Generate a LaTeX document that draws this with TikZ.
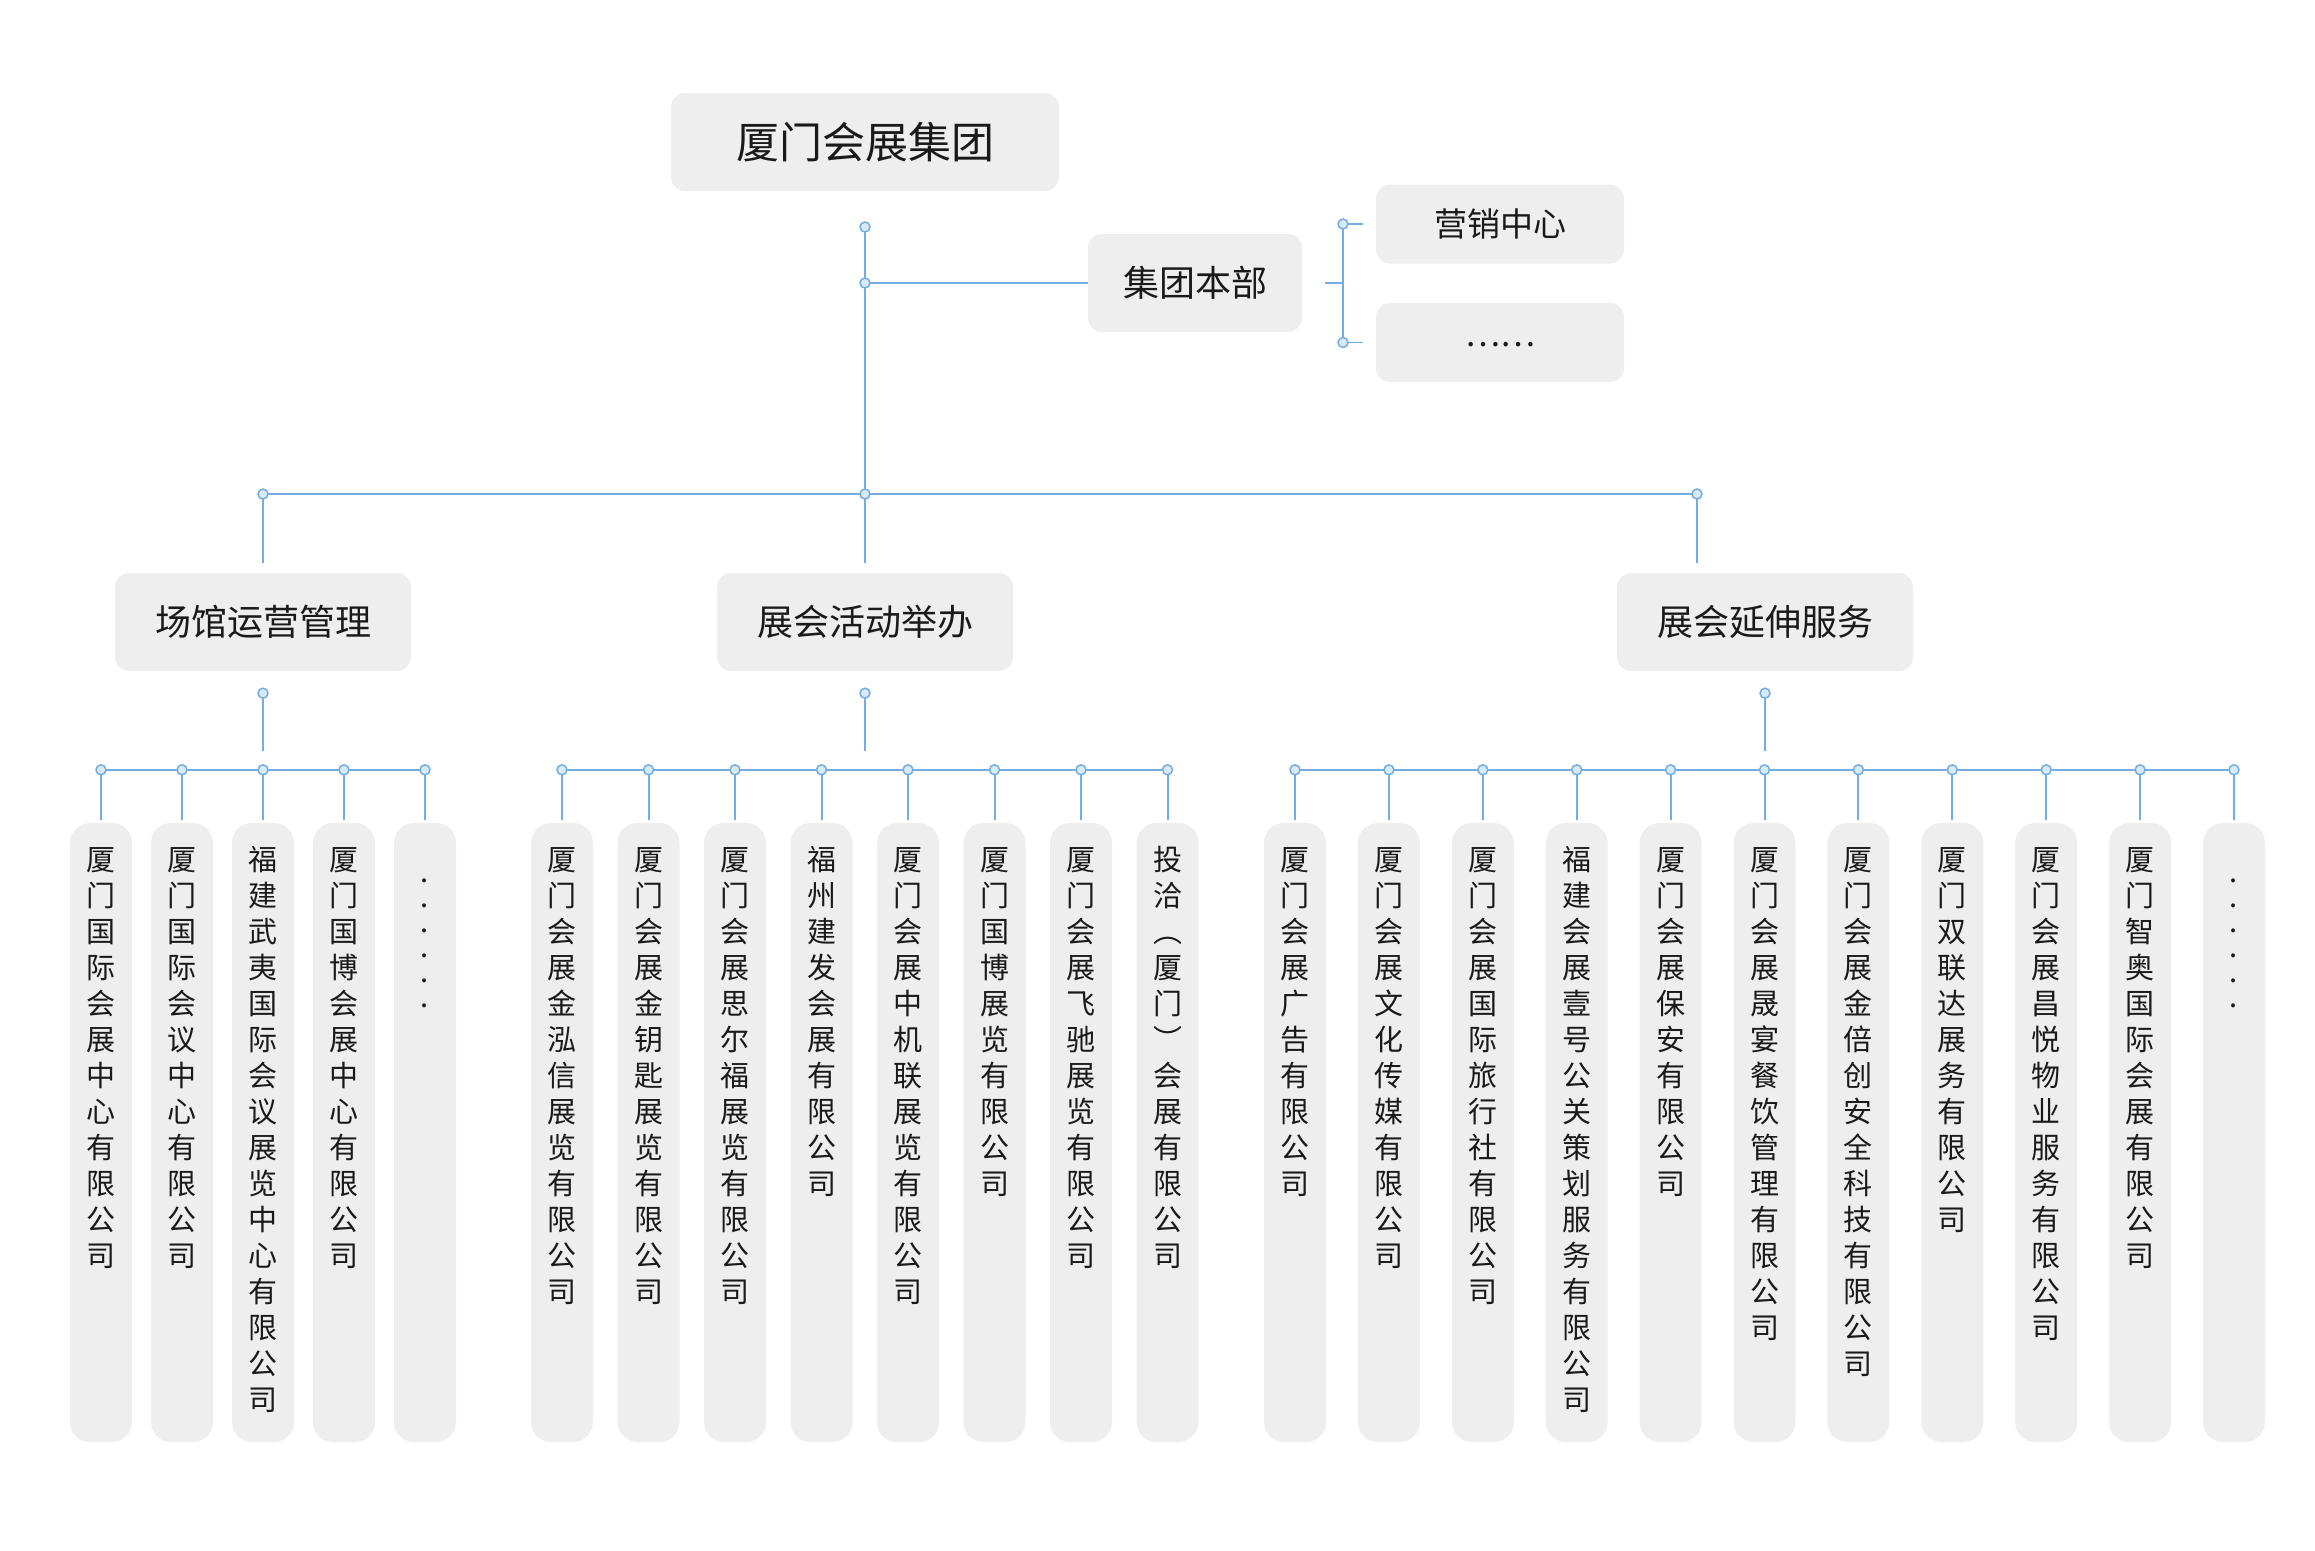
\documentclass[tikz,border=0pt]{standalone}
\usepackage{fontspec}
\setmainfont{Noto Sans CJK SC}
\usepackage{tikz}
\usetikzlibrary{positioning}
\definecolor{boxgray}{HTML}{EEEEEE}
\definecolor{wireblue}{HTML}{74ADE3}
\definecolor{knobfill}{HTML}{D8E9F8}
\definecolor{inkc}{HTML}{1A1A1A}
% one character per line, top aligned in a 619pt column
\def\vcolx#1{\ifx\relax#1\else\hbox to 62pt{\hss\vrule height 25pt depth 7pt width 0pt#1\hss}\expandafter\vcolx\fi}
\newcommand\vcol[3][36pt]{\vbox to 619pt{\kern#2\baselineskip=#1\lineskiplimit=-100pt\relax\expandafter\vcolx#3\relax\vss}}

\begin{document}
\begin{tikzpicture}[x=1pt,y=-1pt,
  orgbox/.style={rectangle,fill=boxgray,text=inkc,inner sep=0pt,rounded corners=14pt},
  topbox/.style={orgbox,minimum width=388pt,minimum height=98pt,font=\fontsize{43}{50}\selectfont,text height=35.7pt,text depth=3pt},
  hqbox/.style={orgbox,minimum width=214pt,minimum height=98pt,font=\fontsize{36}{42}\selectfont,text height=29.9pt,text depth=2.5pt},
  subbox/.style={orgbox,minimum width=248pt,minimum height=79pt,font=\fontsize{33}{40}\selectfont,text height=27.4pt,text depth=2.3pt},
  midbox/.style={orgbox,minimum width=296pt,minimum height=98pt,font=\fontsize{36}{42}\selectfont,text height=29.9pt,text depth=2.5pt},
  leafbox/.style={rectangle,fill=boxgray,text=inkc,rounded corners=20pt,inner sep=0pt,minimum width=62pt,minimum height=619pt,font=\fontsize{29}{36}\selectfont},
  wire/.style={draw=wireblue,line width=2pt},
  knob/.style={circle,draw=wireblue,fill=knobfill,line width=1.5pt,inner sep=0pt,minimum size=10pt}]
\fill[white] (0,0) rectangle (2315,1550);
\useasboundingbox (0,0) rectangle (2315,1550);

% top part
\node[topbox] (group) at (865,142) {厦门会展集团};
\node[hqbox] (hq) at (1195,283) {集团本部};
\node[subbox] (mkt) at (1500,224) {营销中心};
\node[subbox] (more) at (1500,342.5) {\raisebox{9pt}{……}};
\node[midbox] (venue) at (263,622) {场馆运营管理};
\node[midbox] (event) at (865,622) {展会活动举办};
\node[midbox] (ext) at (1765,622) {展会延伸服务};

\coordinate (t0) at (865,227);
\coordinate (t1) at (865,283);
\coordinate (t2) at (865,494);
\coordinate (bl) at (263,494);
\coordinate (br) at (1697,494);
\coordinate (brend) at (1697,563);
\coordinate (bk) at (1343,283);
\coordinate (bkin) at (1325,283);
\coordinate (bk1) at (1343,224);
\coordinate (bk2) at (1343,342.5);

\draw[wire] (t0) -- ([yshift=10pt]event.north);
\draw[wire] (t1) -- (hq.west);
\draw[wire] (bl) -- (br);
\draw[wire] (bl) -- ([yshift=10pt]venue.north);
\draw[wire] (br) -- (brend);
\draw[wire,line width=1.6pt] (bkin) -- (bk);
\draw[wire,line width=1.6pt] (bk1) -- (bk2);
\draw[wire,line width=1.6pt] (bk1) -- ([xshift=-13pt]mkt.west);
\draw[wire,line width=1.6pt] (bk2) -- ([xshift=-13pt]more.west);

% companies
\foreach \firm [count=\i] in {厦门国际会展中心有限公司,厦门国际会议中心有限公司,福建武夷国际会议展览中心有限公司,厦门国博会展中心有限公司}
  \node[leafbox] (v\i) at ({101+81*(\i-1)},1132.5) {\vcol{22pt}{\firm}};
\node[leafbox] (v5) at (425,1132.5) {\vcol[25pt]{34pt}{......}};

\foreach \firm [count=\i] in {厦门会展金泓信展览有限公司,厦门会展金钥匙展览有限公司,厦门会展思尔福展览有限公司,福州建发会展有限公司,厦门会展中机联展览有限公司,厦门国博展览有限公司,厦门会展飞驰展览有限公司,投洽︵厦门︶会展有限公司}
  \node[leafbox] (e\i) at ({562+86.5*(\i-1)},1132.5) {\vcol{22pt}{\firm}};

\foreach \firm [count=\i] in {厦门会展广告有限公司,厦门会展文化传媒有限公司,厦门会展国际旅行社有限公司,福建会展壹号公关策划服务有限公司,厦门会展保安有限公司,厦门会展晟宴餐饮管理有限公司,厦门会展金倍创安全科技有限公司,厦门双联达展务有限公司,厦门会展昌悦物业服务有限公司,厦门智奥国际会展有限公司}
  \node[leafbox] (x\i) at ({1295+93.9*(\i-1)},1132.5) {\vcol{22pt}{\firm}};
\node[leafbox] (x11) at (2234,1132.5) {\vcol[25pt]{34pt}{......}};

% branch wires
\draw[wire] ([yshift=-22pt]venue.south) -- ([yshift=-80pt]venue.south);
\draw[wire] ([yshift=-22pt]event.south) -- ([yshift=-80pt]event.south);
\draw[wire] ([yshift=-22pt]ext.south) -- ([yshift=-80pt]ext.south);
\draw[wire] ([yshift=53pt]v1.north) -- ([yshift=53pt]v5.north);
\draw[wire] ([yshift=53pt]e1.north) -- ([yshift=53pt]e8.north);
\draw[wire] ([yshift=53pt]x1.north) -- ([yshift=53pt]x11.north);
\foreach \i in {1,...,5}
  \draw[wire] ([yshift=53pt]v\i.north) -- ([yshift=3pt]v\i.north);
\foreach \i in {1,...,8}
  \draw[wire] ([yshift=53pt]e\i.north) -- ([yshift=3pt]e\i.north);
\foreach \i in {1,...,11}
  \draw[wire] ([yshift=53pt]x\i.north) -- ([yshift=3pt]x\i.north);

% knobs
\foreach \c in {t0,t1,t2,bl,br,bk1,bk2}
  \node[knob] at (\c) {};
\foreach \b in {venue,event,ext}
  \node[knob] at ([yshift=-22pt]\b.south) {};
\foreach \i in {1,...,5}
  \node[knob] at ([yshift=53pt]v\i.north) {};
\foreach \i in {1,...,8}
  \node[knob] at ([yshift=53pt]e\i.north) {};
\foreach \i in {1,...,11}
  \node[knob] at ([yshift=53pt]x\i.north) {};
\end{tikzpicture}
\end{document}
